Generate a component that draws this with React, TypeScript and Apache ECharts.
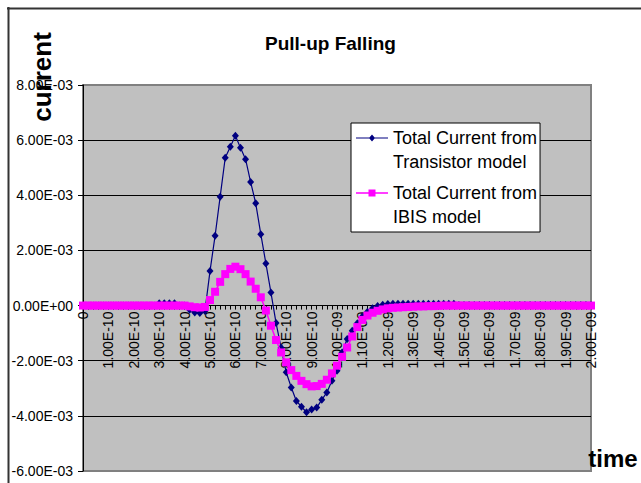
import React, { useEffect, useRef } from "react";
import * as echarts from "echarts";

// ---- data (current in units of 1E-03 A, i.e. mA) ----
const TIME_STEP_S = 2e-11;
const POINT_COUNT = 101;

const TRANSISTOR_MA = [
  0, 0, 0, 0, 0, 0, 0, 0, 0, 0,
  0, 0, 0, 0, 0, 0.08, 0.08, 0.08, 0.08, 0,
  0, -0.15, -0.25, -0.27, -0.2, 1.25, 2.53, 3.95, 5.36, 5.76,
  6.16, 5.72, 5.31, 4.48, 3.71, 2.59, 1.53, 0.47, -0.63, -1.53,
  -2.42, -2.97, -3.46, -3.67, -3.87, -3.77, -3.7, -3.42, -3.15, -2.73,
  -2.36, -1.7, -1.21, -0.91, -0.64, -0.4, -0.22, -0.1, -0.02, 0.03,
  0.06, 0.07, 0.07, 0.07, 0.07, 0.07, 0.07, 0.07, 0.07, 0.07,
  0.07, 0.07, 0.07, 0.07, 0.02, 0.02, 0.02, 0.02, 0.02, 0.02,
  0.02, 0.02, 0.02, 0.02, 0.02, 0.02, 0.02, 0.02, 0.02, 0.02,
  0.02, 0.02, 0.02, 0.02, 0.02, 0.02, 0.02, 0.02, 0.02, 0.02,
  0.02,
];

const IBIS_MA = [
  0, 0, 0, 0, 0, 0, 0, 0, 0, 0,
  0, 0, 0, 0, 0, 0, 0, 0, 0, 0,
  0, -0.03, -0.06, -0.07, -0.05, 0.2, 0.5, 0.86, 1.14, 1.33,
  1.41, 1.32, 1.14, 0.87, 0.61, 0.3, -0.18, -0.73, -1.25, -1.7,
  -2.06, -2.34, -2.55, -2.73, -2.85, -2.93, -2.92, -2.84, -2.69, -2.46,
  -2.18, -1.86, -1.52, -1.12, -0.78, -0.52, -0.36, -0.26, -0.19, -0.14,
  -0.1, -0.08, -0.07, -0.06, -0.05, -0.04, -0.03, -0.03, -0.02, -0.02,
  -0.01, 0, 0, 0, 0, 0, 0, 0, 0, 0,
  0, 0, 0, 0, 0, 0, 0, 0, 0, 0,
  0, 0, 0, 0, 0, 0, 0, 0, 0, 0,
  0,
];

const SERIES_NAMES = ["Total Current from Transistor model", "Total Current from IBIS model"];
const LEGEND_LABELS = ["Total Current from\nTransistor model", "Total Current from\nIBIS model"];
const SERIES_COLORS = ["#000080", "#FF00FF"];

const Y_MIN_MA = -6;
const Y_MAX_MA = 8;
const Y_STEP_MA = 2;

const TITLE = "Pull-up Falling";
const Y_NAME = "current";
const X_NAME = "time";

const FONT = '"Liberation Sans", Arial, sans-serif';

// layout
const W = 641;
const H = 483;
const GRID_LEFT = 83;
const GRID_RIGHT = 50;
const GRID_TOP = 85;
const GRID_BOTTOM = 12;
const X_LABEL_GAP = 6;
const AXIS_FONT_SIZE = 14;

function fmtE(v: number): string {
  if (v === 0) return "0.00E+00";
  const [m, e] = v.toExponential(2).split("e");
  const sign = e[0] === "-" ? "-" : "+";
  const digits = e.replace(/^[+-]/, "").padStart(2, "0");
  return `${m}E${sign}${digits}`;
}

const CATEGORIES = Array.from({ length: POINT_COUNT }, (_, i) =>
  i === 0 ? "0" : fmtE(i * TIME_STEP_S)
);

// distance from the plot bottom up to the zero line (labels sit under the zero line)
const PLOT_H = H - GRID_TOP - GRID_BOTTOM;
const ZERO_FROM_BOTTOM = (PLOT_H * (0 - Y_MIN_MA)) / (Y_MAX_MA - Y_MIN_MA);

// legend icons: line + marker on the first text line, box 32 x 48
const ICON_DIAMOND =
  "path://M0 0 M0 11.4 L32 11.4 L32 12.6 L0 12.6 Z M16 8.5 L19 12 L16 15.5 L13 12 Z M32 48";
const ICON_SQUARE =
  "path://M0 0 M0 11.3 L32 11.3 L32 12.7 L0 12.7 Z M12.5 8.5 L19.5 8.5 L19.5 15.5 L12.5 15.5 Z M32 48";

export default function App() {
  const ref = useRef<HTMLDivElement>(null);

  useEffect(() => {
    if (!ref.current) return;
    const chart = echarts.init(ref.current, null, { renderer: "svg" });
    const option: any = {
      animation: false,
      backgroundColor: "#ffffff",
      title: {
        text: TITLE,
        left: 265,
        top: 34,
        padding: 0,
        textStyle: { fontSize: 19, fontWeight: "bold", color: "#000", fontFamily: FONT },
      },
      legend: {
        data: [
          { name: SERIES_NAMES[0], icon: ICON_DIAMOND },
          { name: SERIES_NAMES[1], icon: ICON_SQUARE },
        ],
        orient: "vertical",
        left: 351,
        top: 123,
        itemWidth: 32,
        itemHeight: 48,
        itemGap: 7,
        padding: [3, 3, 3, 5],
        backgroundColor: "#ffffff",
        borderColor: "#000000",
        borderWidth: 1,
        borderRadius: 0,
        selectedMode: false,
        itemStyle: { borderWidth: 0 },
        formatter: (name: string) => LEGEND_LABELS[SERIES_NAMES.indexOf(name)],
        textStyle: { fontSize: 18, lineHeight: 24, color: "#000", fontFamily: FONT },
      },
      grid: {
        left: GRID_LEFT,
        right: GRID_RIGHT,
        top: GRID_TOP,
        bottom: GRID_BOTTOM,
        containLabel: false,
        outerBoundsMode: "none",
        show: true,
        backgroundColor: "#C0C0C0",
        borderColor: "#808080",
        borderWidth: 2,
      },
      xAxis: {
        type: "category",
        data: CATEGORIES,
        boundaryGap: false,
        axisLine: { show: true, onZero: true, lineStyle: { color: "#000", width: 1 } },
        axisTick: { show: true, interval: 0, length: 4, lineStyle: { color: "#000" } },
        axisLabel: {
          interval: 4,
          rotate: 90,
          margin: X_LABEL_GAP - ZERO_FROM_BOTTOM,
          fontSize: AXIS_FONT_SIZE,
          color: "#000",
          fontFamily: FONT,
        },
        splitLine: { show: false },
      },
      yAxis: {
        type: "value",
        min: Y_MIN_MA,
        max: Y_MAX_MA,
        interval: Y_STEP_MA,
        axisLine: { show: true, lineStyle: { color: "#000", width: 1 } },
        axisTick: { show: true, length: 5, lineStyle: { color: "#000" } },
        axisLabel: {
          formatter: (v: number) => fmtE(v * 1e-3),
          fontSize: AXIS_FONT_SIZE,
          margin: 10,
          color: "#000",
          fontFamily: FONT,
        },
        splitLine: {
          show: true,
          showMinLine: false,
          showMaxLine: false,
          lineStyle: { color: "#000", width: 1 },
        },
      },
      series: [
        {
          type: "line",
          name: SERIES_NAMES[0],
          data: TRANSISTOR_MA,
          symbol: "diamond",
          symbolSize: [7, 8],
          showAllSymbol: true,
          lineStyle: { color: SERIES_COLORS[0], width: 1.2 },
          itemStyle: { color: SERIES_COLORS[0] },
          z: 2,
        },
        {
          type: "line",
          name: SERIES_NAMES[1],
          data: IBIS_MA,
          symbol: "rect",
          symbolSize: 8,
          showAllSymbol: true,
          lineStyle: { color: SERIES_COLORS[1], width: 1.5 },
          itemStyle: { color: SERIES_COLORS[1] },
          z: 3,
        },
      ],
      graphic: [
        { type: "line", shape: { x1: 7, y1: 8.5, x2: W, y2: 8.5 }, style: { stroke: "#333", lineWidth: 2 }, z: 10 },
        { type: "line", shape: { x1: 8.5, y1: 7, x2: 8.5, y2: H }, style: { stroke: "#333", lineWidth: 2 }, z: 10 },
        {
          type: "text",
          x: 42,
          y: 77,
          rotation: Math.PI / 2,
          z: 10,
          style: {
            text: Y_NAME,
            font: `bold 26px ${FONT}`,
            fill: "#000",
            align: "center",
            verticalAlign: "middle",
          },
        },
        {
          type: "text",
          x: 613,
          y: 458,
          z: 10,
          style: {
            text: X_NAME,
            font: `bold 24px ${FONT}`,
            fill: "#000",
            align: "center",
            verticalAlign: "middle",
          },
        },
      ],
    };
    chart.setOption(option);
    return () => chart.dispose();
  }, []);

  return (
    <div
      ref={ref}
      style={{ position: "fixed", left: 0, top: 0, width: W, height: H, background: "#fff" }}
    />
  );
}
